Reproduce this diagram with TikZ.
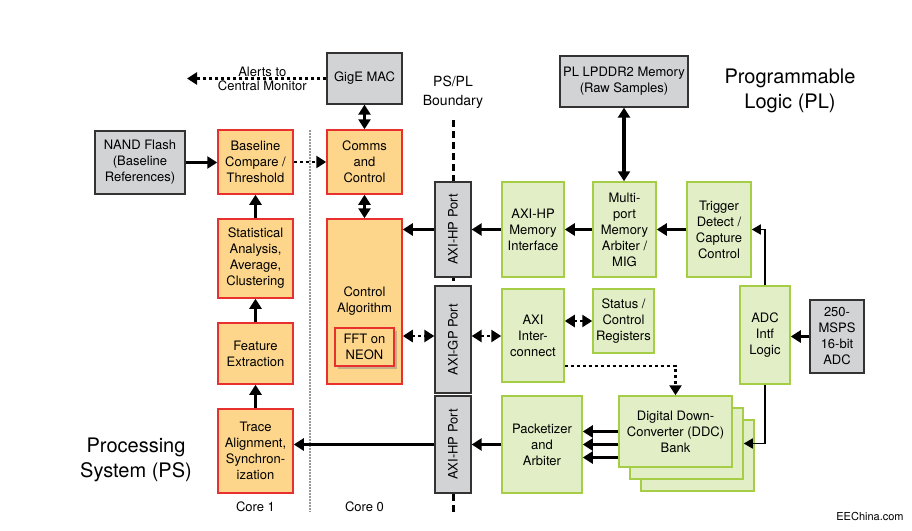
\documentclass[tikz,border=0pt]{standalone}
\usepackage{fontspec}
\setmainfont{TeX Gyre Heros}
\usepackage{graphicx}
\usetikzlibrary{arrows.meta,shadows}
\pgfdeclarelayer{background}
\pgfsetlayers{background,main}
\definecolor{psfill}{HTML}{FDD68B}
\definecolor{psline}{HTML}{E8312F}
\definecolor{plfill}{HTML}{E2EEC5}
\definecolor{plline}{HTML}{A5CD45}
\definecolor{exfill}{HTML}{D1D3D4}
\newcommand\boxfont{\fontsize{13}{16}\selectfont}
\newcommand\bigfont{\fontsize{20}{25}\selectfont}
\tikzstyle{ps}=[draw=psline, fill=psfill, line width=1.5pt, align=center,
    font=\boxfont, inner sep=1pt]
\tikzstyle{pl}=[draw=plline, fill=plfill, line width=1.5pt, align=center,
    font=\boxfont, inner sep=1pt]
\tikzstyle{ext}=[draw=black!80, fill=exfill, line width=1.3pt, align=center,
    font=\boxfont, inner sep=1pt]
\tikzstyle{port}=[ext, minimum width=36]
\tikzstyle{flow}=[line width=3.2pt, -{Triangle[length=10pt,width=12pt]}]
\tikzstyle{flow2}=[line width=3.2pt,
    {Triangle[length=10pt,width=12pt]}-{Triangle[length=10pt,width=12pt]}]
\tikzstyle{bus}=[line width=2.6pt, dash pattern=on 3pt off 3pt,
    -{Triangle[length=10pt,width=12pt]}]
\tikzstyle{bus2}=[line width=2.6pt, dash pattern=on 3pt off 3pt,
    {Triangle[length=10pt,width=12pt]}-{Triangle[length=10pt,width=12pt]}]
\tikzstyle{wire}=[line width=1.5pt, -{Triangle[length=9pt,width=10pt]}]
\def\hplev{229.5}
\def\ddcdx{11}
\def\ddcdy{12}

\begin{document}
\begin{tikzpicture}[x=1pt, y=-1pt]
    \useasboundingbox (0,0) rectangle (912,530);

    % processing system
    \node (nand) at (140,162.5) [ext, minimum width=90, minimum height=63]
        {NAND Flash\\(Baseline\\References)};
    \node (base) at (255.5,162) [ps, minimum width=75, minimum height=64]
        {Baseline\\Compare /\\Threshold};
    \node (stat) at (255.5,258.5) [ps, minimum width=75, minimum height=79]
        {Statistical\\Analysis,\\Average,\\Clustering};
    \node (feat) at (255.5,353.5) [ps, minimum width=75, minimum height=61]
        {Feature\\Extraction};
    \node (trace) at (255.5,451) [ps, minimum width=75, minimum height=84]
        {Trace\\Alignment,\\Synchron-\\ization};
    \node (gige) at (364.5,78.5) [ext, minimum width=75, minimum height=51]
        {GigE MAC};
    \node (comms) at (364.5,162) [ps, minimum width=75, minimum height=64]
        {Comms\\and\\Control};
    \node (ctrl) at (364.5,301.5) [ps, minimum width=75, minimum height=165]
        {Control\\Algorithm};
    \node (fft) at (364.5,347) [ps, minimum width=59, minimum height=38,
        drop shadow={opacity=0.45, shadow xshift=3pt, shadow yshift=-3pt}]
        {FFT on\\NEON};

    % ports on the boundary
    \node (hp1) at (453,229.5) [port, minimum height=95]
        {\rotatebox{90}{AXI-HP Port}};
    \node (gp) at (453,339.5) [port, minimum height=107]
        {\rotatebox{90}{AXI-GP Port}};
    \node (hp2) at (453,444.5) [port, minimum height=97]
        {\rotatebox{90}{AXI-HP Port}};

    % programmable logic
    \node (hpmem) at (533,\hplev) [pl, minimum width=62, minimum height=95]
        {AXI-HP\\Memory\\Interface};
    \node (mport) at (624.5,\hplev) [pl, minimum width=63, minimum height=95]
        {Multi-\\port\\Memory\\Arbiter /\\MIG};
    \node (trig) at (719,\hplev) [pl, minimum width=64, minimum height=95]
        {Trigger\\Detect /\\Capture\\Control};
    \node (lpddr) at (624,81.5) [ext, minimum width=128, minimum height=51]
        {PL LPDDR2 Memory\\(Raw Samples)};
    \node (axi) at (533,335.5) [pl, minimum width=62, minimum height=93]
        {AXI\\Inter-\\connect};
    \node (regs) at (623.5,321) [pl, minimum width=61, minimum height=64]
        {Status /\\Control\\Registers};
    \node (adcif) at (765,335) [pl, minimum width=50, minimum height=98]
        {ADC\\Intf\\Logic};
    \node (adc) at (837,336.5) [ext, minimum width=54, minimum height=73]
        {250-\\MSPS\\16-bit\\ADC};
    \node (pack) at (542,444.5) [pl, minimum width=80, minimum height=97]
        {Packetizer\\and\\Arbiter};
    % stacked DDC bank, back to front
    \path (675.5,431.5)+(2*\ddcdx,2*\ddcdy) node (ddc3) [pl, minimum width=113,
        minimum height=71] {};
    \path (675.5,431.5)+(\ddcdx,\ddcdy) node (ddc2) [pl, minimum width=113,
        minimum height=71] {};
    \node (ddc) at (675.5,431.5) [pl, minimum width=113, minimum height=71]
        {Digital Down-\\Converter (DDC)\\Bank};

    % labels
    \node (pslabel) at (136,460) [font=\bigfont, align=center]
        {Processing\\System (PS)};
    \node (pllabel) at (790,91) [font=\bigfont, align=center]
        {Programmable\\Logic (PL)};
    \node (bnd) at (453,92.5) [font=\fontsize{14}{18.5}\selectfont, align=center]
        {PS/PL\\Boundary};
    \node (core1) at (255.5,507) [font=\boxfont] {Core 1};
    \node (core0) at (364.5,507) [font=\boxfont] {Core 0};
    \node (src) at (870,516) [font=\fontsize{11}{13}\selectfont] {EEChina.com};

    % helper coordinates
    \coordinate (alert) at (187,78.5);
    \coordinate (gplev) at (0,336);
    \coordinate (ddclev) at (0,366);
    \coordinate (btop) at (453,120);
    \coordinate (bbot) at (453,515);
    \coordinate (ctop) at (310,130);
    \coordinate (cbot) at (310,512);

    % connectors
    \draw [bus] (gige.west) -- (alert)
        node [pos=0.46, above, inner sep=1pt, font=\boxfont] {Alerts to}
        node [pos=0.46, below, inner sep=1pt, font=\boxfont] {Central Monitor};
    \draw [flow] (nand.east) -- (nand.east -| base.west);
    \draw [bus] (base.east) -- (comms.west);
    \draw [flow2] (gige.south) -- (comms.north);
    \draw [flow2] (comms.south) -- (ctrl.north);
    \draw [flow] (stat.north) -- (base.south);
    \draw [flow] (feat.north) -- (stat.south);
    \draw [flow] (trace.north) -- (feat.south);

    \draw [flow] (hp1.west) -- (hp1.west -| ctrl.east);
    \draw [flow] (hpmem.west) -- (hp1.east);
    \draw [flow] (mport.west) -- (hpmem.east);
    \draw [flow] (trig.west) -- (mport.east);
    \draw [flow2] (lpddr.south) -- (lpddr.south |- mport.north);

    \draw [bus2] (ctrl.east |- gplev) -- (gp.west |- gplev);
    \draw [bus2] (gp.east |- gplev) -- (axi.west |- gplev);
    \draw [bus2] (axi.east |- regs.west) -- (regs.west);
    \draw [bus] (axi.east |- ddclev) -| (ddc.north);

    \foreach \dy/\nm in {0/a,13/b,26/c} {
        \path (ddc.west)+(0,\dy) coordinate (ddc\nm);
        \draw [flow] (ddc\nm) -- (ddc\nm -| pack.east);
    }
    \draw [flow] (pack.west) -- (hp2.east);
    \draw [flow] (hp2.west) -- (hp2.west -| trace.east);

    \draw [flow] (adc.west) -- (adc.west -| adcif.east);
    \draw [wire] (adcif.north) |- (trig.east);
    \draw [wire] (adcif.south) |- (ddc2.east);

    \begin{pgfonlayer}{background}
        % boundary and core split
        \draw [line width=3pt, dash pattern=on 7pt off 4pt] (btop) -- (bbot);
        \draw [black!40, line width=1.5pt, dash pattern=on 1.5pt off 1.5pt]
            (ctop) -- (cbot);
    \end{pgfonlayer}
\end{tikzpicture}
\end{document}
